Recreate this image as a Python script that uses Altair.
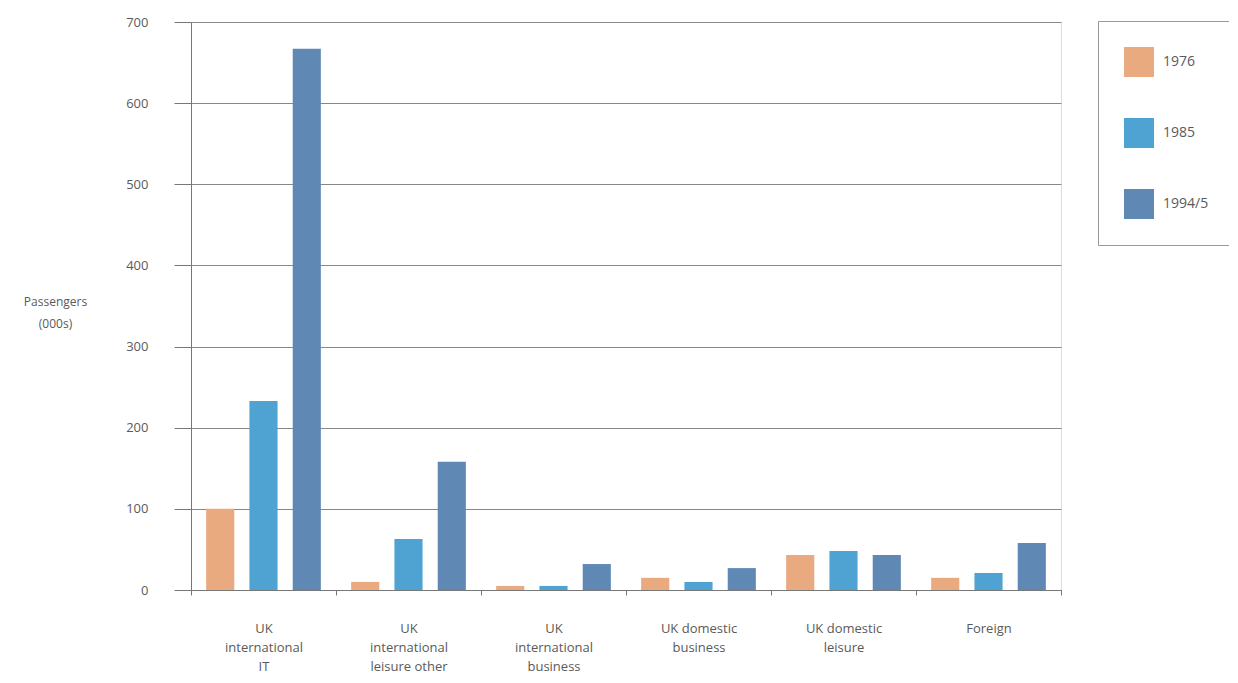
import altair as alt
import pandas as pd

categories = ["UK\ninternational\nIT", "UK\ninternational\nleisure other",
              "UK\ninternational\nbusiness", "UK domestic\nbusiness",
              "UK domestic\nleisure", "Foreign"]
years = ["1976", "1985", "1994/5"]
v1976 = [100, 10, 5, 15, 43, 15]
v1985 = [233, 63, 5, 10, 48, 21]
v1995 = [667, 158, 32, 27, 43, 58]
colors = ["#EAAA80", "#4EA3D2", "#6088B4"]

rows = []
for i, c in enumerate(categories):
    for y, vals in zip(years, [v1976, v1985, v1995]):
        rows.append({"category": c, "year": y, "value": vals[i]})
df = pd.DataFrame(rows)

FONT = "Open Sans"
GRAY = "#5a5a5a"

chart = alt.Chart(df).mark_bar().encode(
    x=alt.X("category:N", sort=categories,
            scale=alt.Scale(paddingInner=0, paddingOuter=0),
            axis=alt.Axis(title=None, labelAngle=0, tickBand="extent",
                          labelExpr="split(datum.label, '\\n')",
                          labelFont=FONT, labelFontSize=13, labelColor=GRAY,
                          labelLineHeight=19, labelPadding=27, labelBaseline="top",
                          tickSize=5, tickColor="#777", domainColor="#777",
                          labelLimit=200)),
    xOffset=alt.XOffset("year:N", sort=years,
                        scale=alt.Scale(paddingInner=0.35, paddingOuter=0.35)),
    y=alt.Y("value:Q", scale=alt.Scale(domain=[0, 700], nice=False),
            axis=alt.Axis(values=[0, 100, 200, 300, 400, 500, 600, 700],
                          title=["Passengers", "(000s)"], titleAngle=0,
                          titleX=-136, titleY=279, titleAlign="center",
                          titleBaseline="middle", titleFont=FONT,
                          titleFontSize=12, titleFontWeight="normal",
                          titleColor=GRAY, titleLineHeight=22,
                          labelFont=FONT, labelFontSize=13, labelColor=GRAY,
                          labelPadding=26, tickSize=17, tickColor="#777",
                          domainColor="#777", gridColor="#888", gridWidth=1)),
    color=alt.Color("year:N", sort=years,
                    scale=alt.Scale(domain=years, range=colors),
                    legend=alt.Legend(title=None, orient="none", legendX=907,
                                      legendY=-1, symbolType="square",
                                      symbolSize=900, symbolStrokeWidth=0,
                                      symbolOpacity=1, rowPadding=41,
                                      padding=26, labelFont=FONT,
                                      labelFontSize=14, labelColor=GRAY,
                                      labelOffset=9, strokeColor="#999",
                                      fillColor="white")),
).properties(
    width=870, height=568,
    autosize=alt.AutoSizeParams(type="none"),
    padding={"left": 183, "top": 14, "right": 168, "bottom": 84},
).configure_view(stroke="#777", strokeWidth=1).configure(background="white")

chart.save("out.html", embed_options={"renderer": "svg", "actions": False})
